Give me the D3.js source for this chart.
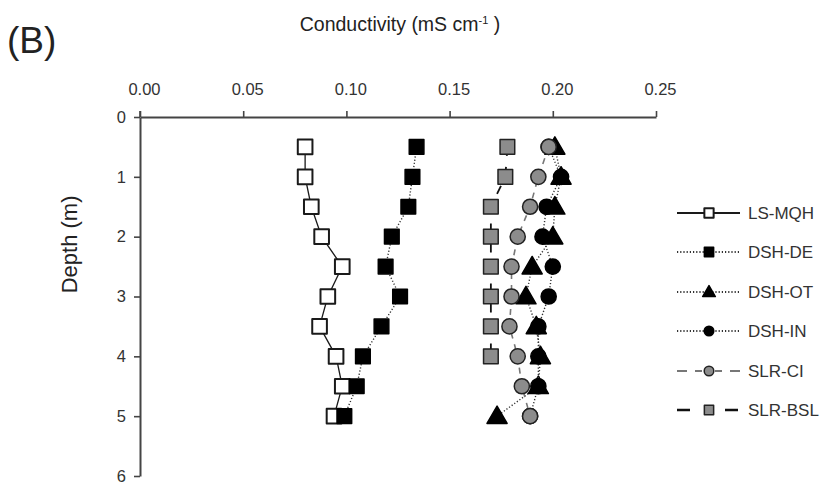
<!DOCTYPE html>
<html>
<head>
<meta charset="utf-8">
<script src="https://cdn.jsdelivr.net/npm/d3@7/dist/d3.min.js"></script>
<style>
  html, body { margin: 0; padding: 0; background: #fff; }
  svg { display: block; font-family: "Liberation Sans", Arial, sans-serif; }
</style>
</head>
<body>
<svg id="chart" width="837" height="488"></svg>
<script>
// Conductivity profiles by depth for each sampling site
const depths = [0.5, 1, 1.5, 2, 2.5, 3, 3.5, 4, 4.5, 5];
const lsMqh  = [0.080, 0.080, 0.083, 0.088, 0.098, 0.091, 0.087, 0.095, 0.098, 0.094];
const dshDe  = [0.134, 0.132, 0.130, 0.122, 0.119, 0.126, 0.117, 0.108, 0.105, 0.099];
const dshOt  = [0.201, 0.204, 0.201, 0.200, 0.190, 0.187, 0.192, 0.194, 0.193, 0.173];
const dshIn  = [0.198, 0.204, 0.197, 0.195, 0.200, 0.198, 0.193, 0.193, 0.193, 0.189];
const slrCi  = [0.198, 0.193, 0.189, 0.183, 0.180, 0.180, 0.179, 0.183, 0.185, 0.189];
const slrBsl = [0.178, 0.177, 0.170, 0.170, 0.170, 0.170, 0.170, 0.170];
const seriesNames = ["LS-MQH", "DSH-DE", "DSH-OT", "DSH-IN", "SLR-CI", "SLR-BSL"];
const xTicks = [0, 0.05, 0.10, 0.15, 0.20, 0.25];
const yTicks = [0, 1, 2, 3, 4, 5, 6];

const series = [
  { name: seriesNames[0], values: lsMqh,  shape: "square",   fill: "#fff",    stroke: "#1a1a1a", line: "#1a1a1a", dash: null,    legendDash: null,               lw: 1.3 },
  { name: seriesNames[1], values: dshDe,  shape: "square",   fill: "#000",    stroke: "#000",    line: "#333",    dash: "1.2,2", legendDash: "1.2,2",            lw: 1.4 },
  { name: seriesNames[2], values: dshOt,  shape: "triangle", fill: "#000",    stroke: "#000",    line: "#333",    dash: "1.2,2", legendDash: "1.2,2",            lw: 1.4 },
  { name: seriesNames[3], values: dshIn,  shape: "circle",   fill: "#000",    stroke: "#000",    line: "#333",    dash: "1.2,2", legendDash: "1.2,2",            lw: 1.4 },
  { name: seriesNames[4], values: slrCi,  shape: "circle",   fill: "#8c8c8c", stroke: "#222",    line: "#777",    dash: "6,6",   legendDash: "10,8,7,13,7,8,10", lw: 1.6 },
  { name: seriesNames[5], values: slrBsl, shape: "square",   fill: "#8c8c8c", stroke: "#222",    line: "#111",    dash: "9,11",  legendDash: "13,35",            lw: 1.8 }
];

const svg = d3.select("#chart");
const x = d3.scaleLinear().domain([0, 0.25]).range([140, 656]);
const y = d3.scaleLinear().domain([0, 6]).range([117, 476]);

// Axes: conductivity on top, depth increasing downward
const xAxis = svg.append("g").attr("transform", `translate(0,${y(0)})`)
  .call(d3.axisTop(x).tickValues(xTicks).tickFormat(d3.format(".2f")).tickSizeInner(6).tickSizeOuter(0).tickPadding(16));
const yAxis = svg.append("g").attr("transform", `translate(${x(0)},0)`)
  .call(d3.axisLeft(y).tickValues(yTicks).tickFormat(d3.format("d")).tickSizeInner(6).tickSizeOuter(0).tickPadding(8));
[xAxis, yAxis].forEach(a => {
  a.select(".domain").attr("stroke", "#444").attr("stroke-width", 2);
  a.selectAll(".tick line").attr("stroke", "#444").attr("stroke-width", 1.6);
  a.selectAll(".tick text").attr("fill", "#333").style("font-size", "16.5px");
});
xAxis.selectAll(".tick text").attr("dx", 4);
// short cross tick at the origin
svg.append("line").attr("x1", x(0)).attr("x2", x(0)).attr("y1", y(0) - 6).attr("y2", y(0))
  .attr("stroke", "#444").attr("stroke-width", 1.6);

const symbols = { square: d3.symbolSquare, circle: d3.symbolCircle, triangle: d3.symbolTriangle };
const sizes = { square: 215, circle: 180, triangle: 175 };

function drawMarker(g, s, cx, cy, scale) {
  g.append("path")
    .attr("d", d3.symbol(symbols[s.shape], sizes[s.shape] * scale)())
    .attr("transform", `translate(${cx},${cy + (s.shape === "triangle" ? 1.5 * Math.sqrt(scale) : 0)})`)
    .attr("fill", s.fill)
    .attr("stroke", s.stroke)
    .attr("stroke-width", s.shape === "square" && s.fill === "#fff" ? 2 : 1.5)
    .attr("stroke-linejoin", "round");
}

const line = d3.line().x(d => x(d[0])).y(d => y(d[1]));
series.forEach(s => {
  const pts = s.values.map((v, i) => [v, depths[i]]);
  const g = svg.append("g");
  g.append("path").attr("d", line(pts)).attr("fill", "none")
    .attr("stroke", s.line).attr("stroke-width", s.lw)
    .attr("stroke-dasharray", s.dash);
  pts.forEach(p => drawMarker(g, s, x(p[0]), y(p[1]), 1));
});

// Legend
const legendY = [213, 252, 292, 331, 371, 410];
series.forEach((s, i) => {
  const g = svg.append("g");
  const ly = legendY[i];
  g.append("line").attr("x1", 677).attr("x2", 740).attr("y1", ly).attr("y2", ly)
    .attr("stroke", s.line).attr("stroke-width", s.lw + 0.6)
    .attr("stroke-dasharray", s.legendDash);
  drawMarker(g, s, 709, ly, 0.4);
  g.append("text").attr("x", 748).attr("y", ly + 6).text(s.name)
    .attr("fill", "#333").style("font-size", "17px");
});

// Titles
svg.append("text").attr("x", 7).attr("y", 53).text("(B)")
  .attr("fill", "#222").style("font-size", "37px");
const t = svg.append("text").attr("x", 400).attr("y", 31).attr("text-anchor", "middle")
  .attr("fill", "#222").style("font-size", "19.5px");
t.append("tspan").text("Conductivity (mS cm");
t.append("tspan").attr("dy", -7).style("font-size", "11px").text("-1");
t.append("tspan").attr("dy", 7).text(" )");
svg.append("text").attr("transform", `translate(77,${y(2.13)}) rotate(-90)`)
  .attr("text-anchor", "middle").attr("fill", "#222").style("font-size", "22px")
  .text("Depth (m)");
</script>
</body>
</html>
